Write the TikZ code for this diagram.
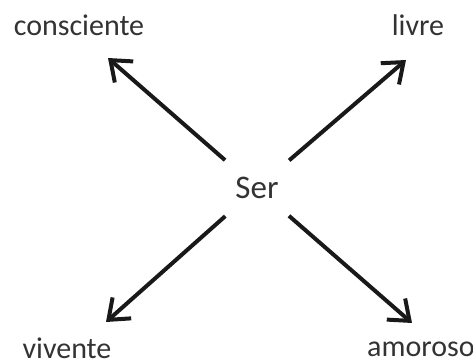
\documentclass[tikz,border=0pt]{standalone}
\usepackage{fontspec}
\setmainfont{Carlito}
\usepackage{tikz}
\usetikzlibrary{arrows.meta}

\begin{document}
\begin{tikzpicture}[
    x=0.5pt, y=-0.5pt,
    word/.style={text=black!80,font=\fontsize{15}{17}\selectfont,inner sep=0pt,anchor=base},
    hub/.style={circle,minimum size=42pt,inner sep=0pt,text=black!80,font=\fontsize{16.5}{18}\selectfont},
    arr/.style={line width=2pt,draw=black!90,-{Straight Barb[length=9pt,width=14pt,line width=2pt]}}
    ]
    \useasboundingbox (0,0) rectangle (473,364);

    \node[hub] (ser) at (257,188) {Ser};
    \node[word] (cons) at (79,35) {consciente};
    \node[word] (liv) at (418,35) {livre};
    \node[word] (viv) at (67,359) {vivente};
    \node[word] (amo) at (421,357) {amoroso};

    \coordinate (tc) at (108,58);
    \coordinate (tl) at (406,60);
    \coordinate (tv) at (106,322);
    \coordinate (ta) at (412,323);

    \path (ser) edge[arr] (tc)
    (ser) edge[arr] (tl)
    (ser) edge[arr] (tv)
    (ser) edge[arr] (ta)
    ;

  \end{tikzpicture}
\end{document}
